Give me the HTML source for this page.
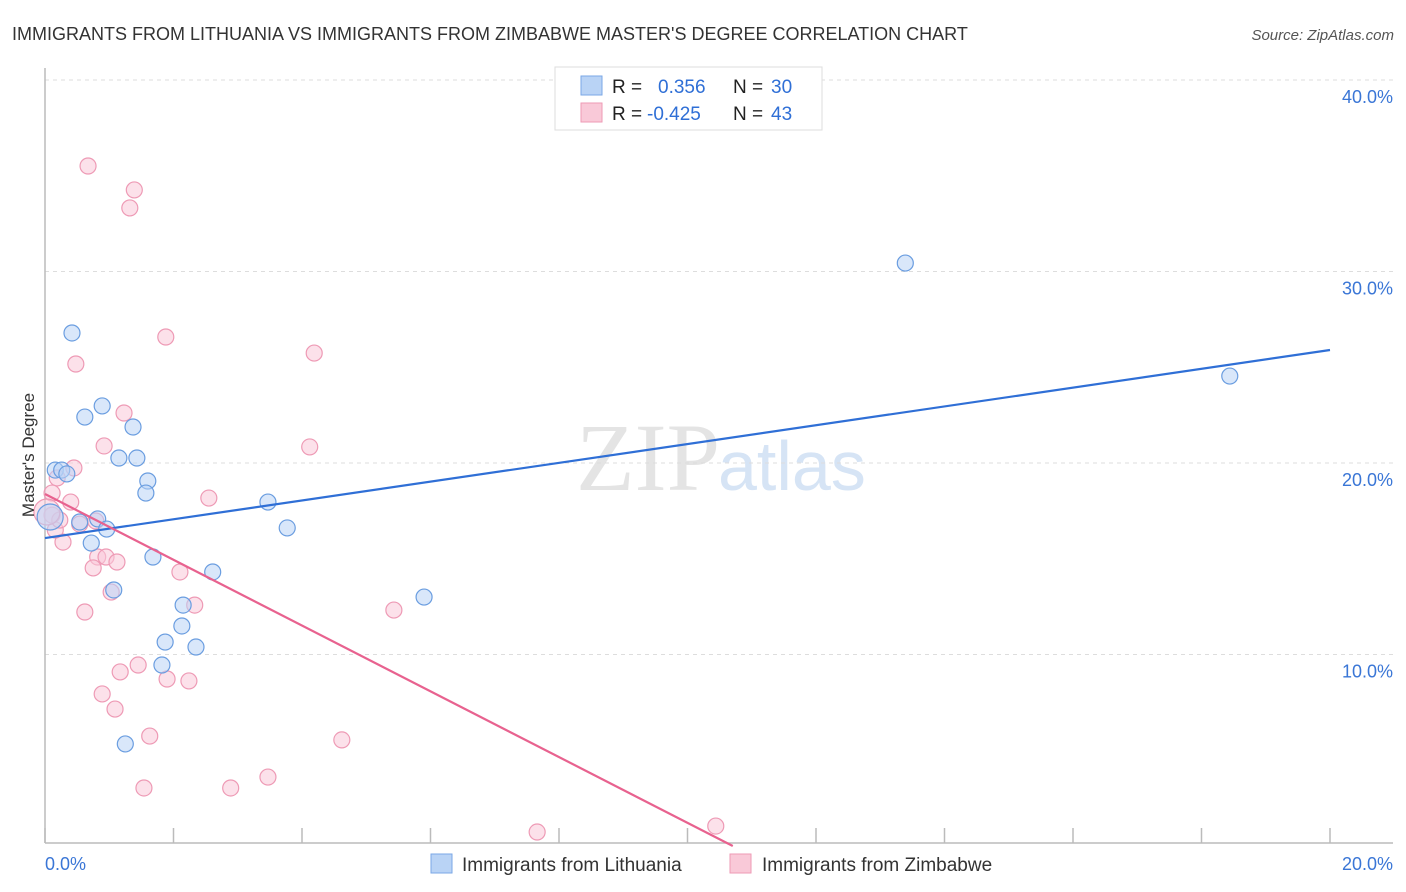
<!DOCTYPE html>
<html><head><meta charset="utf-8"><style>
body{margin:0;background:#fff;font-family:"Liberation Sans",sans-serif;}
svg{display:block}
</style></head><body>
<svg id="chart" width="1406" height="892">
<text x="12" y="40" font-size="18" fill="#333">IMMIGRANTS FROM LITHUANIA VS IMMIGRANTS FROM ZIMBABWE MASTER'S DEGREE CORRELATION CHART</text>
<text x="1394" y="40" font-size="15" fill="#555" font-style="italic" text-anchor="end">Source: ZipAtlas.com</text>
<text x="720" y="490" font-size="96" fill="#e4e4e4" text-anchor="end" font-family="Liberation Serif,serif">ZIP</text>
<text x="718" y="490" font-size="70" fill="#d6e4f5">atlas</text>
<g id="grid"></g><g id="axes"></g><g id="marks"></g>
<text x="34" y="455" font-size="17" fill="#333" text-anchor="middle" transform="rotate(-90 34 455)">Master's Degree</text>
<g>
<rect x="555" y="67" width="267" height="63" fill="#fff" stroke="#ddd"/>
<rect x="581" y="76" width="21" height="19" fill="#b9d3f5" stroke="#7aa7e6"/>
<rect x="581" y="103" width="21" height="19" fill="#f9c9d8" stroke="#ee9ab5"/>
<text x="612" y="93" font-size="19" fill="#222">R = </text><text x="658" y="93" font-size="19" fill="#2f6fd6">0.356</text>
<text x="733" y="93" font-size="19" fill="#222">N = </text><text x="771" y="93" font-size="19" fill="#2f6fd6">30</text>
<text x="612" y="120" font-size="19" fill="#222">R = </text><text x="647" y="120" font-size="19" fill="#2f6fd6">-0.425</text>
<text x="733" y="120" font-size="19" fill="#222">N = </text><text x="771" y="120" font-size="19" fill="#2f6fd6">43</text>
</g>
<g>
<rect x="431" y="854" width="21" height="19" fill="#b9d3f5" stroke="#7aa7e6"/>
<text x="462" y="871" font-size="19" fill="#333">Immigrants from Lithuania</text>
<rect x="730" y="854" width="21" height="19" fill="#f9c9d8" stroke="#ee9ab5"/>
<text x="762" y="871" font-size="19" fill="#333">Immigrants from Zimbabwe</text>
</g>
</svg>
<script>
const yTicks=[10,20,30,40];
const yTickLabels=["10.0%","20.0%","30.0%","40.0%"];
const xTicks=[0,2,4,6,8,10,12,14,16,18,20];
const xEndLabels=["0.0%","20.0%"];
const lithX=[0.42,0.62,0.89,1.37,1.15,1.43,1.60,1.57,0.16,0.26,0.34,0.82,0.96,0.72,0.08,1.68,1.07,2.61,2.15,2.13,1.87,2.35,1.82,1.25,3.47,3.77,5.90,13.39,18.44,0.54];
const lithY=[26.79,22.40,22.98,21.88,20.26,20.26,19.06,18.43,19.63,19.63,19.43,17.08,16.55,15.82,17.18,15.09,13.37,14.31,12.58,11.49,10.65,10.39,9.45,5.33,17.96,16.61,13.00,30.44,24.54,16.92];
const zimX=[0.67,1.39,1.32,1.88,4.19,0.48,1.23,0.92,4.12,0.45,0.19,0.11,0.40,2.55,0.79,0.54,0.28,0.16,0.11,0.82,0.95,1.12,0.75,2.10,1.03,2.33,0.62,5.43,1.45,1.17,1.90,2.24,0.89,1.09,1.63,4.62,3.47,1.54,2.89,7.66,10.44,0.23,0.03];
const zimY=[35.51,34.26,33.32,26.58,25.74,25.17,22.61,20.89,20.84,19.74,19.22,18.43,17.96,18.17,16.97,16.81,15.87,16.50,17.28,15.09,15.09,14.83,14.52,14.31,13.26,12.58,12.22,12.32,9.45,9.09,8.72,8.62,7.94,7.15,5.74,5.54,3.60,3.03,3.03,0.73,1.04,17.02,17.44];
const lithTrend=[16.08,25.90];
const zimTrend=[18.38,-1.717];
const NS="http://www.w3.org/2000/svg";
const X=v=>45+v*64.25, Y=v=>846-v*19.15;
function mk(tag,attrs,parent){const e=document.createElementNS(NS,tag);for(const k in attrs)e.setAttribute(k,attrs[k]);document.getElementById(parent).appendChild(e);return e;}
yTicks.forEach((t,i)=>{
 const l=mk('line',{x1:45,x2:1393,y1:Y(t),y2:Y(t),stroke:'#ddd','stroke-dasharray':'4,4'},'grid');
 
 
 const tx=mk('text',{x:1393,y:Y(t)+23,'font-size':18,fill:'#3a76d6','text-anchor':'end'},'axes');
 tx.textContent=yTickLabels[i];
 
 
});
let a=mk('line',{x1:45,x2:45,y1:68,y2:843,stroke:'#bbb','stroke-width':1.5},'axes');


a=mk('line',{x1:45,x2:1393,y1:843,y2:843,stroke:'#bbb','stroke-width':1.5},'axes');


xTicks.forEach(t=>{
 const l=mk('line',{x1:X(t),x2:X(t),y1:828,y2:843,stroke:'#bbb','stroke-width':1.5},'axes');
 
 
});
let t0=mk('text',{x:45,y:870,'font-size':18,fill:'#3a76d6'},'axes');t0.textContent=xEndLabels[0];


let t1=mk('text',{x:1393,y:870,'font-size':18,fill:'#3a76d6','text-anchor':'end'},'axes');t1.textContent=xEndLabels[1];


function dots(xs,ys,fill,stroke,name){xs.forEach((x,i)=>{
 const big=(x<0.1&&ys[i]>16.8&&ys[i]<17.5);
 const c=mk('circle',{cx:X(x),cy:Y(ys[i]),r:big?13:8,fill:fill,'fill-opacity':0.55,stroke:stroke,'stroke-width':1.2},'marks');
 
 
});}
dots(zimX,zimY,'#f9c9d8','#ee9ab5','point-zimbabwe');
dots(lithX,lithY,'#b9d3f5','#6a9de0','point-lithuania');
let tl=mk('line',{x1:X(0),y1:Y(lithTrend[0]),x2:X(20),y2:Y(lithTrend[1]),stroke:'#2f6fd6','stroke-width':2.2},'marks');


const zEnd=Math.min(20,-zimTrend[0]/zimTrend[1]);
tl=mk('line',{x1:X(0),y1:Y(zimTrend[0]),x2:X(zEnd),y2:Y(zimTrend[0]+zimTrend[1]*zEnd),stroke:'#e8628f','stroke-width':2.2},'marks');


</script>
</body></html>
